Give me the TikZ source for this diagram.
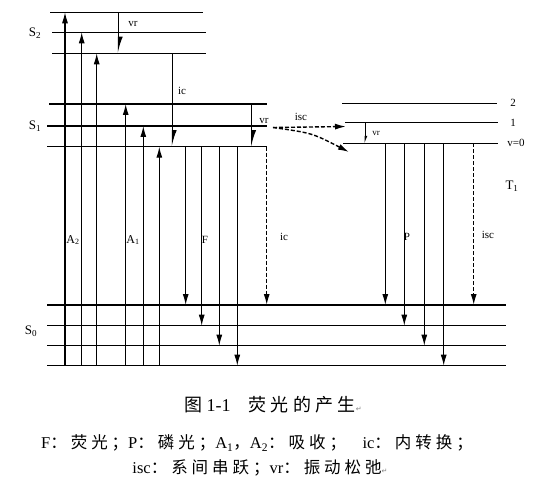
\documentclass[tikz,border=0pt]{standalone}
\usepackage{fontspec}
\setmainfont{Liberation Serif}
\newfontfamily\cjk[LetterSpace=24]{Noto Sans CJK SC}
\newfontfamily\symfont{DejaVu Sans}
\usetikzlibrary{arrows.meta}

\tikzset{
  level/.style={line width=1.3pt},
  trans/.style={line width=1.1pt,-{Latex[length=11pt,width=6pt]}},
  relax/.style={line width=1.1pt,-{Latex[harpoon,length=14pt,width=9pt]}},
  nonrad/.style={trans,line width=1.4pt,dash pattern=on 4pt off 2pt},
  lab/.style={font=\fontsize{11}{11}\selectfont,inner sep=0pt},
  state/.style={font=\fontsize{13}{13}\selectfont,inner sep=0pt},
  captext/.style={font=\fontsize{16.5}{16.5}\selectfont,inner sep=0pt},
}
\newcommand{\retmark}{{\symfont\fontsize{7}{7}\selectfont\textcolor{gray}{↵}}}

\begin{document}
\begin{tikzpicture}[x=1pt,y=-1pt]
  \useasboundingbox (0,0) rectangle (536,500);
  \coordinate (S2a) at (50,12.3);
  \coordinate (S2b) at (52,32.3);
  \coordinate (S2c) at (52,53.3);
  \coordinate (S1a) at (49,104);
  \coordinate (S1b) at (47,126);
  \coordinate (S1c) at (47,146.7);
  \coordinate (T1a) at (342,103.3);
  \coordinate (T1b) at (345,122.7);
  \coordinate (T1c) at (343,143.3);
  \coordinate (S0a) at (47,305);
  \coordinate (S0b) at (47,325.7);
  \coordinate (S0c) at (47,345.7);
  \coordinate (S0d) at (47,365.7);

  \draw[level] (S2a) -- +(153,0);
  \draw[level] (S2b) -- +(154,0);
  \draw[level] (S2c) -- +(154,0);
  \draw[level] (S1a) -- +(218,0);
  \draw[level] (S1b) -- +(220,0);
  \draw[level] (S1c) -- +(220,0);
  \draw[level] (T1a) -- +(155,0);
  \draw[level] (T1b) -- +(153,0);
  \draw[level] (T1c) -- +(155,0);
  \foreach \s in {S0a,S0b,S0c,S0d}
    \draw[level] (\s) -- +(459,0);

  \node[state] (s2) at (35,33) {S\textsubscript{2}};
  \node[state] (s1) at (35,126) {S\textsubscript{1}};
  \node[state] (s0) at (31,331) {S\textsubscript{0}};
  \node[lab] (t2) at (513,103) {2};
  \node[lab] (t1) at (513,123) {1};
  \node[lab] (t0) at (516,143) {v=0};
  \node[state] (t1lab) at (512,186) {T\textsubscript{1}};

  \draw[trans] (65,0 |- S0d) -- (65,0 |- S2a);
  \draw[trans] (81.7,0 |- S0d) -- (81.7,0 |- S2b);
  \draw[trans] (96.7,0 |- S0d) -- (96.7,0 |- S2c);
  \draw[trans] (125.7,0 |- S0d) -- (125.7,0 |- S1a);
  \draw[trans] (143.3,0 |- S0d) -- (143.3,0 |- S1b);
  \draw[trans] (159.3,0 |- S0d) -- (159.3,0 |- S1c);
  \node[lab,font=\fontsize{12}{12}\selectfont] (a2) at (73,240) {A\textsubscript{2}};
  \node[lab,font=\fontsize{12}{12}\selectfont] (a1) at (133,240) {A\textsubscript{1}};

  \draw[relax] (118.3,0 |- S2a) -- (118.3,0 |- S2c);
  \node[lab] (vr1) at (133,24) {vr};
  \draw[relax] (172.3,0 |- S2c) -- (172.3,0 |- S1c);
  \node[lab] (ic1) at (182,91) {ic};
  \draw[relax] (251.7,0 |- S1a) -- (251.7,0 |- S1c);
  \node[lab] (vr2) at (264,121) {vr};

  \draw[trans] (185.7,0 |- S1c) -- (185.7,0 |- S0a);
  \draw[trans] (201.7,0 |- S1c) -- (201.7,0 |- S0b);
  \draw[trans] (219.3,0 |- S1c) -- (219.3,0 |- S0c);
  \draw[trans] (237.3,0 |- S1c) -- (237.3,0 |- S0d);
  \node[lab] (f) at (205,240) {F};
  \draw[nonrad] (266.7,0 |- S1c) -- (266.7,0 |- S0a);
  \node[lab] (ic2) at (284,237) {ic};

  \coordinate (iscs) at (273,127.5);
  \draw[nonrad] (iscs) -- (346,126.5);
  \draw[nonrad] (iscs) .. controls (312,133) .. (349,152);
  \node[lab] (isc1) at (301,117) {isc};

  \draw[relax,line width=0.8pt,-{Latex[harpoon,length=6pt,width=5pt]}] (365,0 |- T1b) -- (365,0 |- T1c);
  \node[lab,font=\fontsize{9}{9}\selectfont] (vr3) at (376,133) {vr};

  \draw[trans] (385.3,0 |- T1c) -- (385.3,0 |- S0a);
  \draw[trans] (404.3,0 |- T1c) -- (404.3,0 |- S0b);
  \draw[trans] (424.3,0 |- T1c) -- (424.3,0 |- S0c);
  \draw[trans] (443.7,0 |- T1c) -- (443.7,0 |- S0d);
  \node[lab] (p) at (407,237) {P};
  \draw[nonrad] (473.7,0 |- T1c) -- (473.7,0 |- S0a);
  \node[lab] (isc2) at (488,235) {isc};

  \node[captext,font=\fontsize{18}{18}\selectfont] (title) at (273,405) {{\cjk 图} 1-1\quad{\cjk 荧光的产生}\retmark};
  \node[captext] (key1) at (257,443) {F{\cjk ：荧光；}P{\cjk ：磷光；}A\textsubscript{1}{\cjk ，}A\textsubscript{2}{\cjk ：吸收；}\quad ic{\cjk ：内转换；}};
  \node[captext] (key2) at (260,468) {isc{\cjk ：系间串跃；}vr{\cjk ：振动松弛}\retmark};
\end{tikzpicture}
\end{document}
